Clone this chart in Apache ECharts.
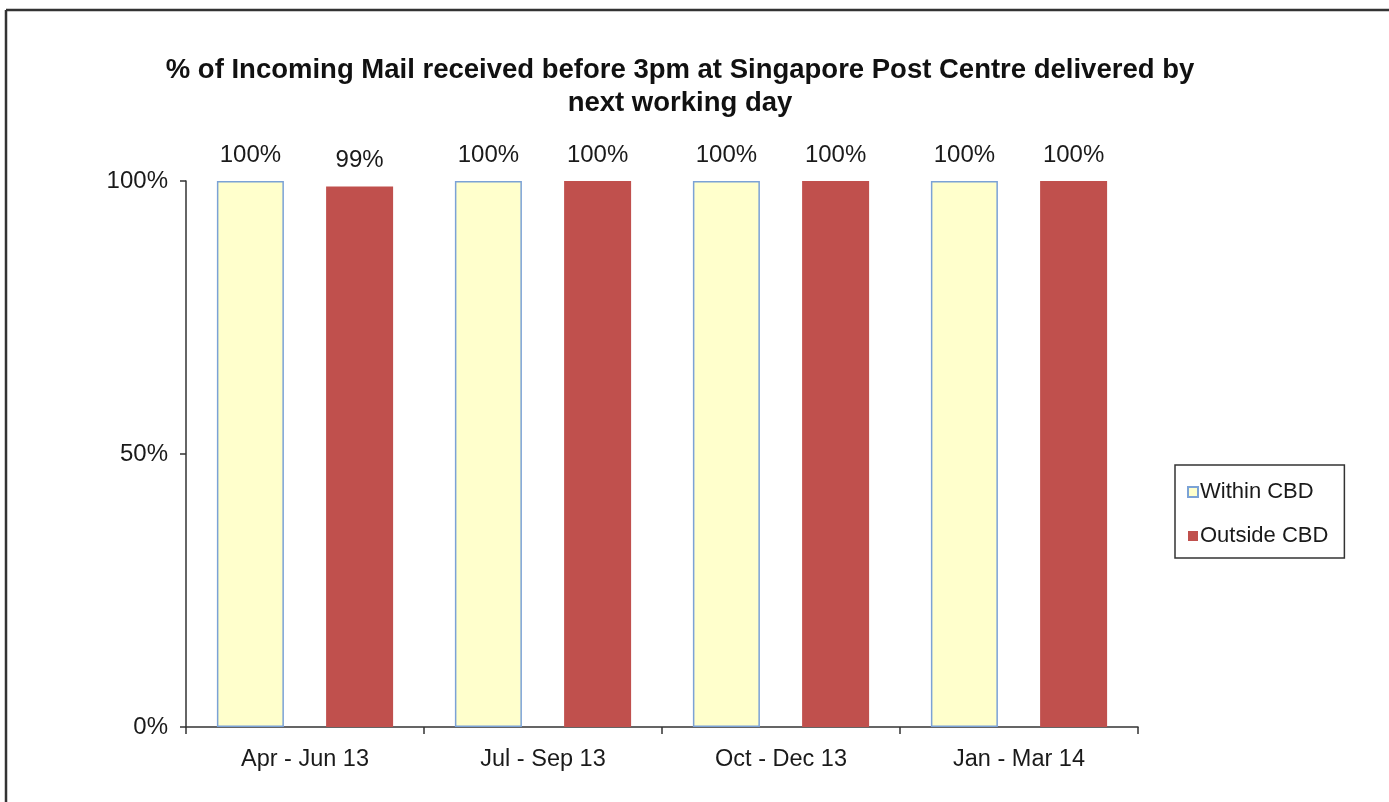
<!DOCTYPE html>
<html>
<head>
<meta charset="utf-8">
<script src="https://cdn.jsdelivr.net/npm/echarts@6/dist/echarts.min.js"></script>
<style>
html,body{margin:0;padding:0;background:#fff;}
#main{width:1389px;height:802px;}
</style>
</head>
<body>
<div id="main"></div>
<script>
const titleText = '% of Incoming Mail received before 3pm at Singapore Post Centre delivered by\nnext working day';
const categories = ['Apr - Jun 13', 'Jul - Sep 13', 'Oct - Dec 13', 'Jan - Mar 14'];
const withinCBD = [100, 100, 100, 100];
const outsideCBD = [99, 100, 100, 100];
const seriesNames = ['Within CBD', 'Outside CBD'];
const yTicks = [0, 50, 100];

const chart = echarts.init(document.getElementById('main'), null, {renderer: 'canvas'});
const font = '"Liberation Sans", Arial, sans-serif';

const labelCfg = {
  show: true,
  position: 'top',
  distance: 14,
  formatter: p => p.value + '%',
  color: '#1a1a1a',
  fontFamily: font,
  fontSize: 24
};

chart.setOption({
  backgroundColor: '#ffffff',
  animation: false,
  title: {
    text: titleText,
    left: 675,
    textAlign: 'center',
    top: 49,
    textStyle: {
      fontFamily: font,
      fontWeight: 'bold',
      fontSize: 27.5,
      lineHeight: 33,
      color: '#111'
    }
  },
  legend: {
    orient: 'vertical',
    left: 1175,
    top: 465,
    padding: [15, 16, 10, 12],
    borderColor: '#333',
    borderWidth: 1.5,
    itemWidth: 10,
    itemHeight: 10,
    itemGap: 20,
    icon: 'rect',
    data: seriesNames,
    textStyle: {
      fontFamily: font,
      fontSize: 22,
      lineHeight: 24,
      color: '#1a1a1a',
      padding: [0, 0, 0, -3]
    }
  },
  grid: {
    left: 186,
    right: 251,
    top: 181,
    bottom: 75,
    containLabel: false
  },
  xAxis: {
    type: 'category',
    data: categories,
    axisLine: {lineStyle: {color: '#333', width: 1.5}},
    axisTick: {show: true, alignWithLabel: false, length: 7, lineStyle: {color: '#333', width: 1.5}},
    axisLabel: {
      fontFamily: font,
      fontSize: 23.5,
      color: '#1a1a1a',
      margin: 21
    },
    splitLine: {show: false}
  },
  yAxis: {
    type: 'value',
    min: 0,
    max: 100,
    interval: 50,
    axisLine: {show: true, lineStyle: {color: '#333', width: 1.5}},
    axisTick: {show: true, length: 6, lineStyle: {color: '#333', width: 1.5}},
    axisLabel: {
      formatter: v => yTicks.includes(v) ? v + '%' : '',
      fontFamily: font,
      fontSize: 24,
      color: '#1a1a1a',
      margin: 18
    },
    splitLine: {show: false}
  },
  series: [
    {
      name: seriesNames[0],
      type: 'bar',
      data: withinCBD,
      barWidth: 67,
      barGap: '63%',
      itemStyle: {color: '#FFFFCC', borderColor: '#7BA2D6', borderWidth: 1.5},
      label: labelCfg
    },
    {
      name: seriesNames[1],
      type: 'bar',
      data: outsideCBD,
      barWidth: 67,
      itemStyle: {color: '#C0504D'},
      label: labelCfg
    }
  ],
  graphic: [
    {type: 'line', shape: {x1: 6, y1: 10, x2: 1389, y2: 10}, style: {stroke: '#333', lineWidth: 2.5}, silent: true},
    {type: 'line', shape: {x1: 6, y1: 10, x2: 6, y2: 802}, style: {stroke: '#333', lineWidth: 2.5}, silent: true}
  ]
});
</script>
</body>
</html>
